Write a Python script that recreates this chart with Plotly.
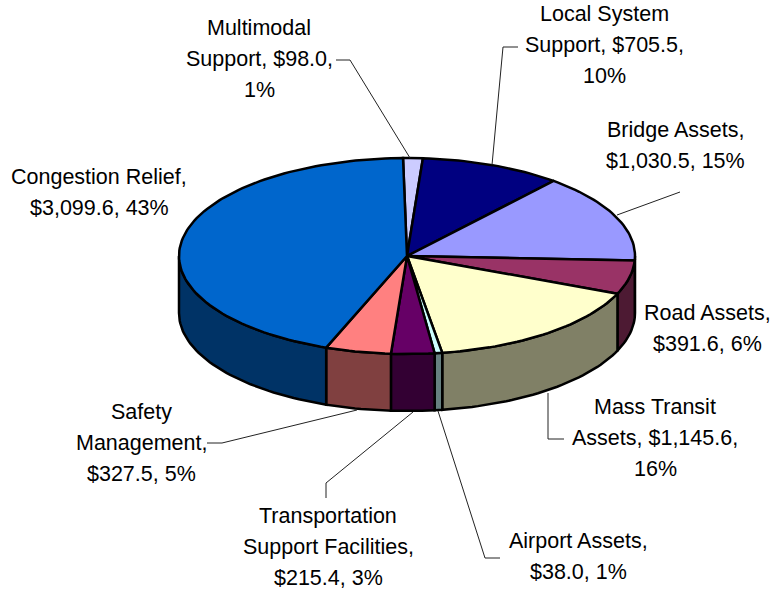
import math
import plotly.graph_objects as go

# ---- data, in drawing order (clockwise from the top) ----
categories = ["Multimodal Support", "Local System Support", "Bridge Assets", "Road Assets",
              "Mass Transit Assets", "Airport Assets", "Transportation Support Facilities",
              "Safety Management", "Congestion Relief"]
values = [98.0, 705.5, 1030.5, 391.6, 1145.6, 38.0, 215.4, 327.5, 3099.6]
top_colors = ["#CCCCFF", "#000080", "#9999FF", "#993366", "#FFFFCC",
              "#CCFFFF", "#660066", "#FF8080", "#0066CC"]
side_colors = ["#666680", "#000040", "#4D4D80", "#4D1A33", "#808066",
               "#668080", "#330033", "#804040", "#003366"]
label_lines = [
    ["Multimodal", "Support, $98.0,", "1%"],
    ["Local System", "Support, $705.5,", "10%"],
    ["Bridge Assets,", "$1,030.5, 15%"],
    ["Road Assets,", "$391.6, 6%"],
    ["Mass Transit", "Assets, $1,145.6,", "16%"],
    ["Airport Assets,", "$38.0, 1%"],
    ["Transportation", "Support Facilities,", "$215.4, 3%"],
    ["Safety", "Management,", "$327.5, 5%"],
    ["Congestion Relief,", "$3,099.6, 43%"],
]
label_x = [259, 604, 675, 707, 655, 578, 328, 141, 99]
label_y = [28, 14, 130, 313, 407, 541, 516, 412, 177]
leaders = [
    [(336, 60), (350, 60), (410, 158)],
    [(518, 47), (503, 47), (492, 165)],
    [(617, 215), (680, 192)],
    None,
    [(548, 393), (548, 439), (564, 439)],
    [(438, 411), (485, 558), (500, 558)],
    [(413, 412), (326, 483), (326, 498)],
    [(357, 410), (222, 443), (207, 443)],
    None,
]

# ---- pie geometry ----
CX, CY, RX, RY, DEPTH, START = 407, 256, 228, 98, 57, -1.0
LINE_STEP = 31


def pt(t, dy=0):
    r = math.radians(t)
    return CX + RX * math.sin(r), CY - RY * math.cos(r) + dy


def arc(a, b):
    n = max(2, int(abs(b - a) / 1.5) + 1)
    return [a + (b - a) * i / (n - 1) for i in range(n)]


fig = go.Figure()
total = sum(values)
spans = []
a = START
for v in values:
    b = a + 360 * v / total
    spans.append((a, b))
    a = b


def poly(points, color):
    fig.add_trace(go.Scatter(
        x=[p[0] for p in points], y=[p[1] for p in points], mode="lines", fill="toself",
        fillcolor=color, line=dict(color="black", width=2.5), hoverinfo="skip", showlegend=False))


# visible side walls: the front half of the rim, t in 90..270
for (a, b), c in zip(spans, side_colors):
    lo, hi = max(a, 90), min(b, 270)
    if hi > lo:
        ts = arc(lo, hi)
        poly([pt(t) for t in ts] + [pt(t, DEPTH) for t in reversed(ts)] + [pt(lo)], c)

# top faces
for (a, b), c in zip(spans, top_colors):
    poly([(CX, CY)] + [pt(t) for t in arc(a, b)] + [(CX, CY)], c)

# leader lines
for seg in leaders:
    if seg:
        fig.add_trace(go.Scatter(x=[p[0] for p in seg], y=[p[1] for p in seg], mode="lines",
                                 line=dict(color="#222222", width=1), hoverinfo="skip",
                                 showlegend=False))

# labels
for lines, x, y in zip(label_lines, label_x, label_y):
    for i, s in enumerate(lines):
        fig.add_annotation(x=x, y=y + i * LINE_STEP, text=s, showarrow=False, xanchor="center",
                           yanchor="middle", font=dict(family="Liberation Sans", size=21.5, color="black"))

fig.update_layout(
    width=776, height=592, autosize=False, margin=dict(l=0, r=0, t=0, b=0),
    paper_bgcolor="white", plot_bgcolor="white", showlegend=False,
    xaxis=dict(range=[0, 776], visible=False, fixedrange=True),
    yaxis=dict(range=[592, 0], visible=False, fixedrange=True),
)
fig.write_html("out.html", post_script="document.body.style.margin='0';",
               config={"displayModeBar": False})
